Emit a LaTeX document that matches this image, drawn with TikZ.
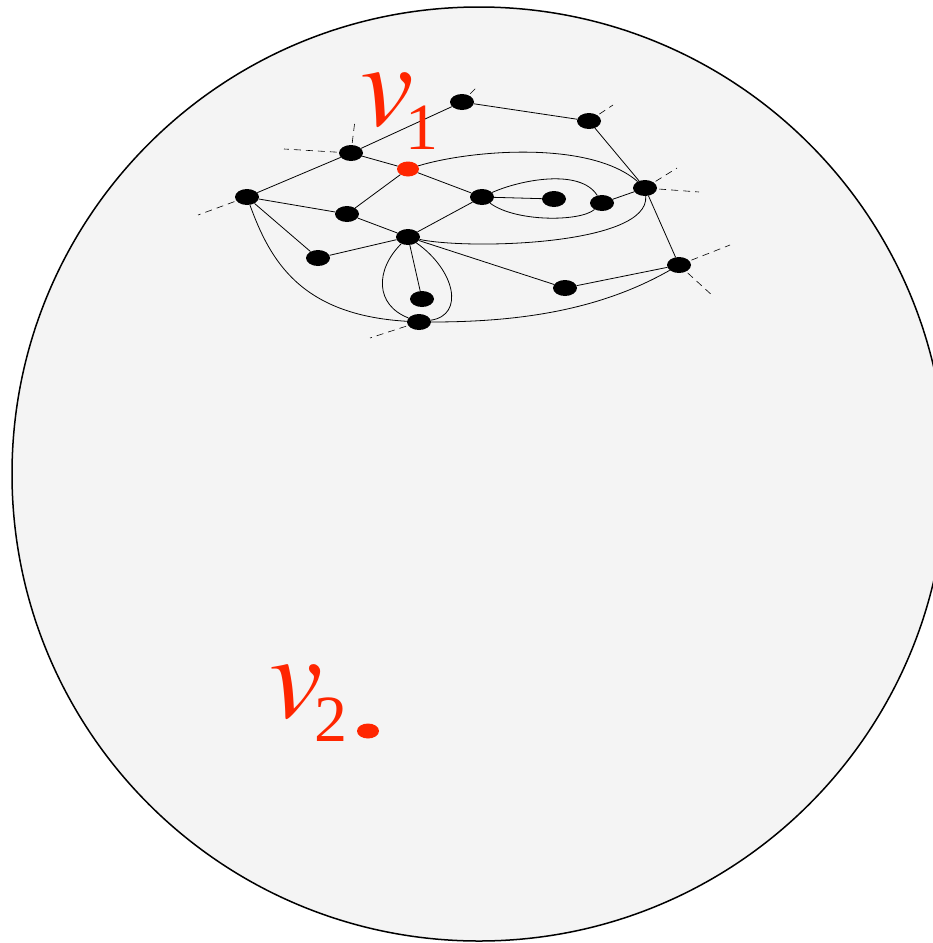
\documentclass[tikz,border=0pt]{standalone}
\usepackage{mathptmx}
\usepackage[no-math]{fontspec}
\setmainfont{Liberation Serif}
\usetikzlibrary{shapes.geometric}
\definecolor{vred}{RGB}{255,38,0}
\definecolor{discgray}{RGB}{244,244,244}
\newcommand{\vlab}[1]{{\fontsize{120}{120}\selectfont$v$}\kern-8pt\raisebox{-24pt}{\fontsize{66}{66}\selectfont #1}}

\begin{document}
\begin{tikzpicture}[x=1pt,y=1pt,yscale=-1,xscale=1,
  dot/.style={ellipse,fill=black,minimum width=24,minimum height=16,inner sep=0},
  rdot/.style={dot,fill=vred,minimum width=22,minimum height=15},
  edge/.style={line width=0.8},
  stub/.style={line width=0.6,dash pattern=on 7 off 5,shorten <=2},
  vlabel/.style={text=vred,inner sep=0,anchor=base west}]
\useasboundingbox (0,0) rectangle (933,943);
\clip (0,0) rectangle (933,943);

%Shape: Disc
\draw [fill=discgray,line width=1.5] (479,474) circle [radius=467];

%Vertices
\node [dot] (a) at (247,197) {};
\node [dot] (b) at (351,153) {};
\node [rdot] (v1) at (408,169) {};
\node [dot] (c) at (462,102) {};
\node [dot] (d) at (589,121) {};
\node [dot] (e) at (347,214) {};
\node [dot] (f) at (408,237) {};
\node [dot] (g) at (318,258) {};
\node [dot] (h) at (482,197) {};
\node [dot] (i) at (554,199) {};
\node [dot] (j) at (602,203) {};
\node [dot] (k) at (645,188) {};
\node [dot] (l) at (679,265) {};
\node [dot] (m) at (565,288) {};
\node [dot] (n) at (422,299) {};
\node [dot] (o) at (419,322) {};
\node [rdot] (v2) at (368,731) {};

%Straight Lines
\draw [edge] (a) -- (b) (a) -- (e) (a) -- (g) (b) -- (v1) (b) -- (c) (c) -- (d) (d) -- (k);
\draw [edge] (v1) -- (e) (v1) -- (h) (e) -- (f) (g) -- (f) (f) -- (h) (f) -- (n) (f) -- (m);
\draw [edge] (h) -- (i) (j) -- (k) (k) -- (l) (m) -- (l);

%Curves
\draw [edge] (v1) .. controls (470,150) and (590,140) .. (k);
\draw [edge] (f) .. controls (470,250) and (650,245) .. (k);
\draw [edge] (h) .. controls (520,180) and (580,168) .. (j);
\draw [edge] (h) .. controls (515,222) and (580,222) .. (j);
\draw [edge] (f) .. controls (375,270) and (375,305) .. (o);
\draw [edge] (f) .. controls (455,270) and (465,315) .. (o);
\draw [edge] (a) .. controls (270,260) and (300,315) .. (o);
\draw [edge] (o) .. controls (520,322) and (600,310) .. (l);

%Half edges
\coordinate (bu) at (355,120);
\coordinate (bl) at (284,149);
\coordinate (al) at (198,215);
\coordinate (cu) at (477,87);
\coordinate (du) at (613,105);
\coordinate (ku) at (677,168);
\coordinate (kr) at (699,192);
\coordinate (lu) at (730,245);
\coordinate (ld) at (714,297);
\coordinate (od) at (370,338);
\draw [stub] (b) -- (bu);
\draw [stub] (b) -- (bl);
\draw [stub] (a) -- (al);
\draw [stub] (c) -- (cu);
\draw [stub] (d) -- (du);
\draw [stub] (k) -- (ku);
\draw [stub] (k) -- (kr);
\draw [stub] (l) -- (lu);
\draw [stub] (l) -- (ld);
\draw [stub] (o) -- (od);

% Text Node
\node [vlabel] (t1) at (360,125) {\vlab{1}};
% Text Node
\node [vlabel] (t2) at (269,717) {\vlab{2}};

\end{tikzpicture}
\end{document}
